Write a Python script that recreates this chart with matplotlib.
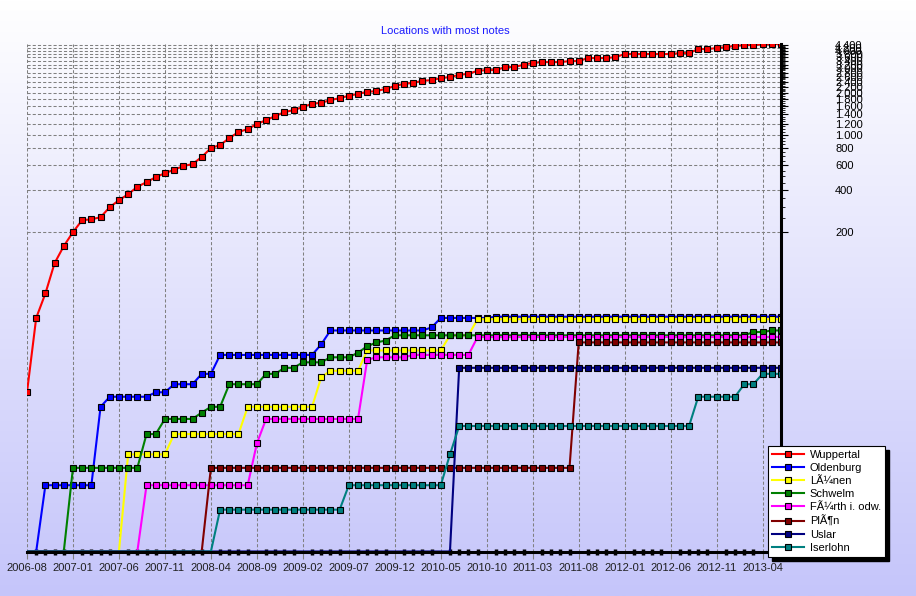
import numpy as np
import matplotlib.pyplot as plt
from matplotlib.patches import Rectangle
from matplotlib.ticker import FixedLocator, FuncFormatter

plt.rcParams['font.family'] = ['Liberation Sans', 'DejaVu Sans']

# monthly values, 2006-08 .. 2013-06
tick_labels = ["2006-08", "2007-01", "2007-06", "2007-11", "2008-04", "2008-09",
               "2009-02", "2009-07", "2009-12", "2010-05", "2010-10", "2011-03",
               "2011-08", "2012-01", "2012-06", "2012-11", "2013-04"]

wuppertal = [13, 47, 71, 118, 157, 198, 242, 245, 254, 300,
             337, 372, 421, 455, 494, 528, 559, 594, 614, 690,
             801, 842, 945, 1045, 1098, 1193, 1274, 1362, 1455, 1504,
             1580, 1670, 1698, 1775, 1835, 1906, 1970, 2036, 2060, 2140,
             2239, 2326, 2360, 2445, 2470, 2557, 2600, 2700, 2745, 2886,
             2920, 2920, 3070, 3070, 3190, 3290, 3333, 3333, 3333, 3390,
             3390, 3563, 3563, 3563, 3620, 3808, 3808, 3808, 3808, 3808,
             3808, 3873, 3873, 4137, 4137, 4206, 4277, 4348, 4420, 4420,
             4495, 4495, 4500]
oldenburg = [0, 0, 2, 2, 2, 2, 2, 2, 10, 12,
             12, 12, 12, 12, 13, 13, 15, 15, 15, 18,
             18, 25, 25, 25, 25, 25, 25, 25, 25, 25,
             25, 25, 30, 38, 38, 38, 38, 38, 38, 38,
             38, 38, 38, 38, 40, 47, 47, 47, 47, 47,
             47, 48, 48, 48, 48, 48, 48, 48, 48, 48,
             48, 48, 48, 48, 48, 48, 48, 48, 48, 48,
             48, 48, 48, 48, 48, 48, 48, 48, 48, 48,
             48, 48, 48]
luenen = [0, 0, 0, 0, 0, 0, 0, 0, 0, 0,
          0, 4, 4, 4, 4, 4, 6, 6, 6, 6,
          6, 6, 6, 6, 10, 10, 10, 10, 10, 10,
          10, 10, 17, 19, 19, 19, 19, 27, 27, 27,
          27, 27, 27, 27, 27, 27, 35, 35, 35, 46,
          46, 46, 46, 46, 46, 46, 46, 46, 46, 46,
          46, 46, 46, 46, 46, 46, 46, 46, 46, 46,
          46, 46, 46, 46, 46, 46, 46, 46, 46, 46,
          46, 46, 46]
schwelm = [0, 0, 0, 0, 0, 3, 3, 3, 3, 3,
           3, 3, 3, 6, 6, 8, 8, 8, 8, 9,
           10, 10, 15, 15, 15, 15, 18, 18, 20, 20,
           22, 22, 22, 24, 24, 24, 26, 29, 31, 32,
           35, 35, 35, 35, 35, 35, 35, 35, 35, 35,
           35, 35, 35, 35, 35, 35, 35, 35, 35, 35,
           35, 35, 35, 35, 35, 35, 35, 35, 35, 35,
           35, 35, 35, 35, 35, 35, 35, 35, 35, 37,
           37, 38, 38]
fuerth = [0, 0, 0, 0, 0, 0, 0, 0, 0, 0,
          0, 0, 0, 2, 2, 2, 2, 2, 2, 2,
          2, 2, 2, 2, 2, 5, 8, 8, 8, 8,
          8, 8, 8, 8, 8, 8, 8, 23, 24, 24,
          24, 24, 25, 25, 25, 25, 25, 25, 25, 34,
          34, 34, 34, 34, 34, 34, 34, 34, 34, 34,
          34, 34, 34, 34, 34, 34, 34, 34, 34, 34,
          34, 34, 34, 34, 34, 34, 34, 34, 34, 34,
          34, 34, 34]
ploen = [0, 0, 0, 0, 0, 0, 0, 0, 0, 0,
         0, 0, 0, 0, 0, 0, 0, 0, 0, 0,
         3, 3, 3, 3, 3, 3, 3, 3, 3, 3,
         3, 3, 3, 3, 3, 3, 3, 3, 3, 3,
         3, 3, 3, 3, 3, 3, 3, 3, 3, 3,
         3, 3, 3, 3, 3, 3, 3, 3, 3, 3,
         31, 31, 31, 31, 31, 31, 31, 31, 31, 31,
         31, 31, 31, 31, 31, 31, 31, 31, 31, 31,
         31, 31, 31]
uslar = [0, 0, 0, 0, 0, 0, 0, 0, 0, 0,
         0, 0, 0, 0, 0, 0, 0, 0, 0, 0,
         0, 0, 0, 0, 0, 0, 0, 0, 0, 0,
         0, 0, 0, 0, 0, 0, 0, 0, 0, 0,
         0, 0, 0, 0, 0, 0, 0, 20, 20, 20,
         20, 20, 20, 20, 20, 20, 20, 20, 20, 20,
         20, 20, 20, 20, 20, 20, 20, 20, 20, 20,
         20, 20, 20, 20, 20, 20, 20, 20, 20, 20,
         20, 20, 20]
iserlohn = [0, 0, 0, 0, 0, 0, 0, 0, 0, 0,
            0, 0, 0, 0, 0, 0, 0, 0, 0, 0,
            0, 1, 1, 1, 1, 1, 1, 1, 1, 1,
            1, 1, 1, 1, 1, 2, 2, 2, 2, 2,
            2, 2, 2, 2, 2, 2, 4, 7, 7, 7,
            7, 7, 7, 7, 7, 7, 7, 7, 7, 7,
            7, 7, 7, 7, 7, 7, 7, 7, 7, 7,
            7, 7, 7, 12, 12, 12, 12, 12, 15, 15,
            18, 18, 18]

names = ["Wuppertal", "Oldenburg", "L\u00c3\u00bcnen", "Schwelm",
         "F\u00c3\u00bcrth i. odw.", "Pl\u00c3\u00b6n", "Uslar", "Iserlohn"]
colors = ["#ff0000", "#0000ff", "#ffff00", "#008000",
          "#ff00ff", "#800000", "#000080", "#008080"]
series = [wuppertal, oldenburg, luenen, schwelm, fuerth, ploen, uslar, iserlohn]

y_ticks = list(range(200, 4401, 200))

W, H = 916, 596
fig = plt.figure(figsize=(W / 100, H / 100), dpi=100)

# background gradient
bg = fig.add_axes([0, 0, 1, 1], zorder=-10)
t = np.linspace(0, 1, 256)[:, None, None]
top_c = np.array([1.0, 1.0, 1.0])
bot_c = np.array([197, 197, 250]) / 255
bg.imshow(top_c + (bot_c - top_c) * t, aspect='auto', extent=[0, 1, 0, 1])
bg.set_axis_off()

x0, x1, yb, yt = 27, 781, 551.5, 44
ax = fig.add_axes([x0 / W, (H - yb) / H, (x1 - x0) / W, (yb - yt) / H])
ax.set_facecolor('none')

x = np.arange(len(wuppertal))
for name, vals, col in zip(names, series, colors):
    # points at zero sit on the axis line, only the line is seen there
    nz = [i for i, v in enumerate(vals) if v > 0]
    ax.plot(x, vals, color=col, lw=1.5, marker='s', ms=4, mfc=col,
            mec='black', mew=0.8, markevery=nz, label=name)

ax.set_yscale('function', functions=(lambda v: np.log1p(np.maximum(v, 0)), np.expm1))
ax.set_ylim(0, 4500)
ax.set_xlim(0, len(x) - 1)

ax.set_xticks(range(0, len(x), 5))
ax.set_xticklabels(tick_labels)
ax.set_xticks(range(len(x)), minor=True)
ax.tick_params(axis='x', which='major', length=5, color='#808080', pad=3,
               labelsize=8, labelcolor='#202020')
ax.tick_params(axis='x', which='minor', direction='inout', length=5, width=2.5, color='black')

ax.yaxis.tick_right()
ax.yaxis.set_major_locator(FixedLocator(y_ticks))
ax.yaxis.set_minor_locator(FixedLocator([v for v in range(250, 4400, 50) if v % 200]))
ax.yaxis.set_major_formatter(FuncFormatter(lambda v, p: f"{int(v):,}".replace(",", ".")))
ax.tick_params(axis='y', which='major', length=5, pad=34, labelsize=8, color='black')
ax.tick_params(axis='y', which='minor', length=3, color='black')

ax.grid(which='major', color='#808080', linestyle=(0, (3, 2)), linewidth=0.75)

for s in ['left', 'top']:
    ax.spines[s].set_visible(False)
for s in ['bottom', 'right']:
    ax.spines[s].set_linewidth(2.2)
    ax.spines[s].set_color('black')

fig.text(445 / W, 1 - 31 / H, "Locations with most notes", color='#1a1aff',
         fontsize=8, ha='center', va='center')

handles, labels = ax.get_legend_handles_labels()
leg = fig.legend(handles, labels, loc='upper left',
                 bbox_to_anchor=(768.3 / W, 1 - 446 / H), bbox_transform=fig.transFigure,
                 frameon=True, fancybox=False, edgecolor='black', facecolor='white',
                 framealpha=1, fontsize=8, handlelength=2.9, labelspacing=0.28,
                 borderpad=0.35, handletextpad=0.5, borderaxespad=0)
leg.get_frame().set_linewidth(0.8)
leg.set_zorder(10)
# one marker in the middle of each legend line
for h in leg.legend_handles:
    h.set_markevery([1])

fig.canvas.draw()
bb = leg.get_window_extent()
fig.add_artist(Rectangle(((bb.x0 + 4) / W, (bb.y0 - 4) / H), bb.width / W, bb.height / H,
                         transform=fig.transFigure, color='black', zorder=9))

fig.savefig('out.png', dpi=100)
